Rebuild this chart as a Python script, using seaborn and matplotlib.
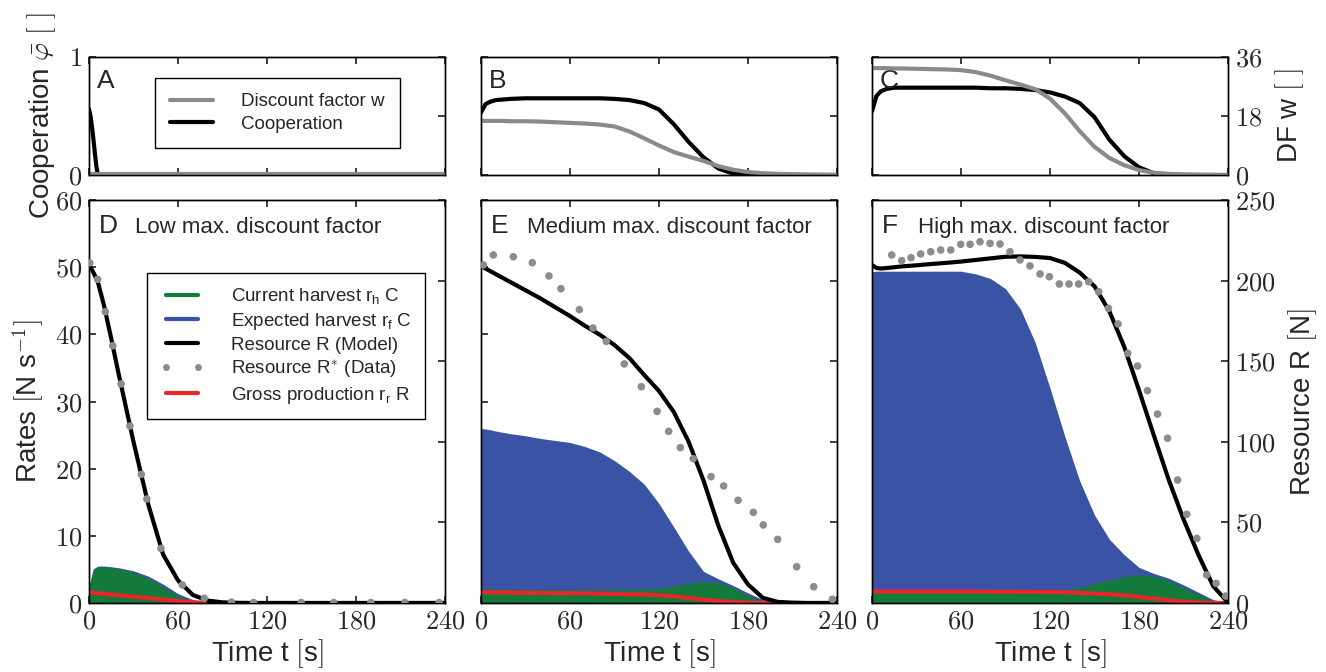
"""Cooperation, discount factor and resource dynamics for three max. discount factors."""

import matplotlib.pyplot as plt
import matplotlib.ticker as mticker
from matplotlib.lines import Line2D
import seaborn as sns

# ---------------------------------------------------------------------------
# data
# ---------------------------------------------------------------------------
T_GRID = [0, 3, 6, 10, 15, 20, 30, 40, 50, 60, 70, 80, 90, 100, 110, 120,
          130, 140, 150, 160, 170, 180, 190, 200, 210, 220, 230, 240]

# top row: cooperation (left axis, 0-1) and discount factor w (right axis, 0-36)
T_COOP_A = [0, 1, 2, 3, 4, 5, 6, 240]
COOP_A = [0.56, 0.50, 0.41, 0.30, 0.18, 0.07, 0.0, 0.0]
T_W_A = [0, 240]
W_A = [0.3, 0.3]

COOP_B = [0.53, 0.60, 0.62, 0.635, 0.64, 0.645, 0.65, 0.65, 0.65, 0.65, 0.65, 0.65, 0.645, 0.635,
          0.61, 0.555, 0.43, 0.28, 0.15, 0.055, 0.012, 0.002, 0, 0, 0, 0, 0, 0]
W_B = [16.5, 16.5, 16.5, 16.5, 16.5, 16.4, 16.4, 16.3, 16.1, 15.9, 15.7, 15.4, 14.8, 13.3,
       11.2, 9.0, 7.0, 5.6, 4.3, 2.7, 1.6, 0.9, 0.55, 0.35, 0.25, 0.15, 0.1, 0.05]

COOP_C = [0.54, 0.67, 0.71, 0.73, 0.74, 0.74, 0.74, 0.74, 0.74, 0.74, 0.74, 0.735, 0.735, 0.73,
          0.72, 0.70, 0.665, 0.61, 0.49, 0.30, 0.16, 0.065, 0.015, 0.003, 0, 0, 0, 0]
W_C = [32.6, 32.6, 32.6, 32.6, 32.5, 32.5, 32.4, 32.3, 32.2, 32.0, 31.4, 30.3, 28.9, 27.6,
       26.2, 23.3, 18.8, 13.4, 8.6, 5.2, 3.0, 1.5, 0.7, 0.35, 0.2, 0.1, 0.05, 0.0]

# bottom row: rates (left axis, 0-60) and resource R (right axis, 0-250)
R_MODEL_D = [209.7, 205, 199, 185, 164, 142, 100, 61, 30, 14, 5, 1.5, 0.4, 0.1, 0,
             0, 0, 0, 0, 0, 0, 0, 0, 0, 0, 0, 0, 0]
CURRENT_D = [2.5, 5.0, 5.4, 5.4, 5.3, 5.1, 4.6, 3.7, 2.4, 1.1, 0.35, 0.05, 0, 0, 0,
             0, 0, 0, 0, 0, 0, 0, 0, 0, 0, 0, 0, 0]
EXPECTED_D = [2.5, 5.1, 5.5, 5.5, 5.4, 5.25, 4.8, 4.0, 2.8, 1.4, 0.5, 0.1, 0, 0, 0,
              0, 0, 0, 0, 0, 0, 0, 0, 0, 0, 0, 0, 0]
GROSS_D = [1.6, 1.5, 1.45, 1.35, 1.25, 1.15, 0.95, 0.75, 0.5, 0.3, 0.1, 0.02, 0, 0, 0,
           0, 0, 0, 0, 0, 0, 0, 0, 0, 0, 0, 0, 0]

R_MODEL_E = [209.1, 207.5, 206, 204, 201.5, 199, 194, 189, 183.5, 178, 172, 166.5, 160, 152,
             141.5, 131.5, 118.5, 100, 76, 48, 25, 11.5, 3.2, 0.7, 0.2, 0, 0, 0]
CURRENT_E = [2.1, 2.1, 2.1, 2.1, 2.05, 2.05, 2.0, 2.0, 2.0, 2.0, 1.95, 1.95, 1.95, 2.0,
             2.05, 2.2, 2.5, 2.9, 3.2, 3.1, 2.3, 1.1, 0.2, 0, 0, 0, 0, 0]
EXPECTED_E = [26.0, 25.9, 25.8, 25.6, 25.4, 25.2, 24.9, 24.5, 24.2, 23.9, 23.3, 22.5, 21.2, 19.6,
              17.7, 14.8, 11.3, 7.7, 4.7, 3.6, 2.6, 1.5, 0.5, 0, 0, 0, 0, 0]
GROSS_E = [1.6, 1.6, 1.6, 1.58, 1.57, 1.55, 1.52, 1.5, 1.47, 1.45, 1.42, 1.4, 1.35, 1.3,
           1.25, 1.15, 1.0, 0.75, 0.5, 0.3, 0.15, 0.05, 0, 0, 0, 0, 0, 0]

R_MODEL_F = [209.7, 207.8, 207.5, 207.8, 208.3, 208.8, 209.5, 210.3, 211, 211.8, 212.8, 213.8,
             214.8, 215, 214.7, 214, 211, 205, 196.5, 181, 159, 132, 104, 76.5, 52, 30, 10.5, 0.3]
CURRENT_F = [1.8, 1.8, 1.8, 1.8, 1.8, 1.8, 1.8, 1.8, 1.8, 1.8, 1.8, 1.8, 1.8, 1.8,
             1.8, 1.8, 1.9, 2.3, 2.9, 3.4, 3.9, 4.2, 4.0, 3.3, 2.3, 1.3, 0.4, 0]
EXPECTED_F = [49.3, 49.4, 49.4, 49.4, 49.4, 49.4, 49.4, 49.4, 49.4, 49.4, 49.0, 48.3, 46.8, 43.8,
              38.8, 32.0, 24.8, 18.2, 13.1, 9.5, 7.2, 5.3, 4.4, 3.7, 2.7, 1.6, 0.5, 0]
GROSS_F = [1.7, 1.7, 1.7, 1.7, 1.7, 1.7, 1.7, 1.7, 1.7, 1.7, 1.7, 1.69, 1.68, 1.67,
           1.66, 1.65, 1.6, 1.5, 1.4, 1.3, 1.15, 0.9, 0.65, 0.4, 0.2, 0.08, 0.02, 0]

# measured resource R* (data points)
T_DOTS_D = [0.5, 5.8, 11, 16, 21.6, 27.6, 35.3, 39, 48.5, 62.9, 77.7, 96, 111, 143, 165, 190, 213, 236]
R_DOTS_D = [211, 200.8, 180.7, 159.6, 135.9, 109.8, 79.8, 64.5, 33.9, 11.2, 2.9, 0.5, 0.3, 0.3,
            0.3, 0.3, 0.3, 0.3]
T_DOTS_E = [1.6, 8.3, 21.8, 34.6, 45.8, 53.9, 66.3, 75.5, 84.5, 96.6, 108.1, 118.7, 126.5, 134.4,
            143.1, 155.1, 163.6, 173.3, 183.6, 190.3, 200, 212.8, 224.3, 236.9]
R_DOTS_E = [209.7, 215.9, 214.8, 211.1, 202.9, 195.0, 182.0, 170.6, 162.3, 148.3, 134.2, 118.9,
            106.5, 96.4, 89.5, 78.4, 72.6, 63.7, 56.2, 48.4, 39.5, 22.5, 10.1, 2.3]
T_DOTS_F = [13.3, 20, 26.3, 32.8, 39.6, 46.3, 53.1, 59.8, 66.1, 72.8, 79.6, 86.3, 93, 99.8, 106.5,
            113.3, 119.6, 126.3, 132.8, 139.3, 146.1, 152.8, 159.4, 165.9, 172.4, 179, 185.7,
            192.5, 199.2, 206, 212.2, 219, 225.7, 232, 238.5]
R_DOTS_F = [215.9, 212.4, 214.2, 216.5, 217.9, 219, 219, 222.5, 222.5, 224.1, 223.1, 222.7, 217.9,
            212.8, 209.1, 204.1, 202.4, 197.9, 197.9, 197.9, 199.3, 193.1, 182.8, 173.1, 154.9,
            147.0, 131.7, 117.2, 102.2, 76.3, 55.0, 40.1, 17.4, 12.2, 4.3]

TOP_LETTERS = ["A", "B", "C"]
BOTTOM_LETTERS = ["D", "E", "F"]
BOTTOM_TITLES = ["Low max. discount factor", "Medium max. discount factor",
                 "High max. discount factor"]
TIME_TICKS = [0, 60, 120, 180, 240]

GREEN = "#137a3b"
BLUE = "#3a53a4"
RED = "#e8262b"
GRAY = "#8a8a8a"
DOT_GRAY = "#8c8c8c"

W_PX, H_PX = 1326, 672
LEFTS = [89, 481, 872]
PANEL_W = 356


def _math_fmt(v, _):
    return f"${v:g}$"


def _rect(left, top, bottom):
    return [left / W_PX, 1 - bottom / H_PX, PANEL_W / W_PX, (bottom - top) / H_PX]


def draw_top(fig, col, t_coop, coop, t_w, w):
    ax = fig.add_axes(_rect(LEFTS[col], 57, 175))
    ax2 = ax.twinx()
    sns.lineplot(x=t_coop, y=coop, ax=ax, color="black", lw=3, legend=False)
    sns.lineplot(x=t_w, y=w, ax=ax2, color=GRAY, lw=3, legend=False)
    ax.set_xlim(0, 240)
    ax.set_ylim(0, 1)
    ax2.set_ylim(0, 36)
    ax.set_xticks(TIME_TICKS)
    ax.set_yticks([0, 1])
    ax2.set_yticks([0, 18, 36])
    ax.tick_params(axis="x", top=True, labelbottom=False)
    ax.tick_params(axis="y", right=False, labelleft=(col == 0))
    ax2.tick_params(axis="y", labelright=(col == 2))
    for a in (ax, ax2):
        a.yaxis.set_major_formatter(mticker.FuncFormatter(_math_fmt))
        a.set_xlabel("")
    ax2.set_ylabel("")
    ax.set_ylabel("")
    ax.text(0.022, 0.74, TOP_LETTERS[col], transform=ax.transAxes, fontsize=19,
            ha="left", va="baseline")
    if col == 0:
        ax.set_ylabel("Cooperation $\\bar{\\varphi}$ $[\\,\\,]$", fontsize=20, labelpad=7)
        handles = [Line2D([], [], color=GRAY, lw=3), Line2D([], [], color="black", lw=3)]
        ax2.legend(handles, ["Discount factor w", "Cooperation"], loc="upper left",
                   bbox_to_anchor=(0.185, 0.822), borderaxespad=0, fontsize=13.5,
                   frameon=True, fancybox=False, edgecolor="black", framealpha=1,
                   handlelength=2.3, handletextpad=1.5, borderpad=0.8, labelspacing=0.3)
    if col == 2:
        ax2.set_ylabel("DF w $[\\,\\,]$", fontsize=20, labelpad=8)
    return ax, ax2


def draw_bottom(fig, col, model, current, expected, gross, t_dots, r_dots):
    ax = fig.add_axes(_rect(LEFTS[col], 200, 603))
    ax.fill_between(T_GRID, 0, expected, color=BLUE, lw=0, zorder=1)
    ax.fill_between(T_GRID, 0, current, color=GREEN, lw=0, zorder=2)
    sns.lineplot(x=T_GRID, y=gross, ax=ax, color=RED, lw=3, zorder=3, legend=False)
    ax2 = ax.twinx()
    sns.lineplot(x=T_GRID, y=model, ax=ax2, color="black", lw=3, legend=False)
    sns.scatterplot(x=t_dots, y=r_dots, ax=ax2, color=DOT_GRAY, s=30, edgecolor="none",
                    zorder=4, legend=False)
    ax.set_xlim(0, 240)
    ax.set_ylim(0, 60)
    ax2.set_ylim(0, 250)
    ax.set_xticks(TIME_TICKS)
    ax.set_yticks(range(0, 61, 10))
    ax2.set_yticks(range(0, 251, 50))
    ax.tick_params(axis="x", top=True)
    ax.tick_params(axis="y", right=False, labelleft=(col == 0))
    ax2.tick_params(axis="y", labelright=(col == 2))
    ax.xaxis.set_major_formatter(mticker.FuncFormatter(_math_fmt))
    for a in (ax, ax2):
        a.yaxis.set_major_formatter(mticker.FuncFormatter(_math_fmt))
    ax.set_ylabel("")
    ax2.set_ylabel("")
    ax.set_xlabel("Time t $[$s$]$", fontsize=20, labelpad=2)
    ax.text(0.028, 0.918, BOTTOM_LETTERS[col], transform=ax.transAxes, fontsize=19,
            ha="left", va="baseline")
    ax.text(0.128, 0.918, BOTTOM_TITLES[col], transform=ax.transAxes, fontsize=16,
            ha="left", va="baseline")
    if col == 0:
        ax.set_ylabel("Rates $[$N s$^{-1}]$", fontsize=20, labelpad=6)
        handles = [Line2D([], [], color=GREEN, lw=3), Line2D([], [], color=BLUE, lw=3),
                   Line2D([], [], color="black", lw=3),
                   Line2D([], [], color=DOT_GRAY, ls="none", marker="o", markersize=5,
                          markeredgecolor="none"),
                   Line2D([], [], color=RED, lw=3)]
        labels = ["Current harvest $\\mathregular{r_h}$ C", "Expected harvest $\\mathregular{r_f}$ C",
                  "Resource R (Model)", "Resource R$^{*}$ (Data)",
                  "Gross production $\\mathregular{r_r}$ R"]
        ax2.legend(handles, labels, loc="upper left", bbox_to_anchor=(0.163, 0.819),
                   borderaxespad=0, fontsize=13.5, frameon=True, fancybox=False,
                   edgecolor="black", framealpha=1, handlelength=2.3, handletextpad=1.5,
                   numpoints=2, borderpad=0.7, labelspacing=0.25)
    if col == 2:
        ax2.set_ylabel("Resource R $[$N$]$", fontsize=20, labelpad=8)
    return ax, ax2


def main():
    sns.set_theme(style="ticks")
    plt.rcParams.update({
        "font.family": ["Liberation Sans", "DejaVu Sans"],
        "mathtext.fontset": "cm",
        "xtick.direction": "in",
        "ytick.direction": "in",
        "xtick.major.size": 5,
        "ytick.major.size": 5,
        "xtick.labelsize": 19,
        "ytick.labelsize": 19,
        "xtick.major.pad": 5,
        "ytick.major.pad": 5,
        "axes.linewidth": 1.0,
        "axes.edgecolor": "black",
    })
    fig = plt.figure(figsize=(W_PX / 100, H_PX / 100), dpi=100)

    draw_top(fig, 0, T_COOP_A, COOP_A, T_W_A, W_A)
    draw_top(fig, 1, T_GRID, COOP_B, T_GRID, W_B)
    draw_top(fig, 2, T_GRID, COOP_C, T_GRID, W_C)

    draw_bottom(fig, 0, R_MODEL_D, CURRENT_D, EXPECTED_D, GROSS_D, T_DOTS_D, R_DOTS_D)
    draw_bottom(fig, 1, R_MODEL_E, CURRENT_E, EXPECTED_E, GROSS_E, T_DOTS_E, R_DOTS_E)
    draw_bottom(fig, 2, R_MODEL_F, CURRENT_F, EXPECTED_F, GROSS_F, T_DOTS_F, R_DOTS_F)

    fig.savefig("out.png", dpi=100)


if __name__ == "__main__":
    main()
